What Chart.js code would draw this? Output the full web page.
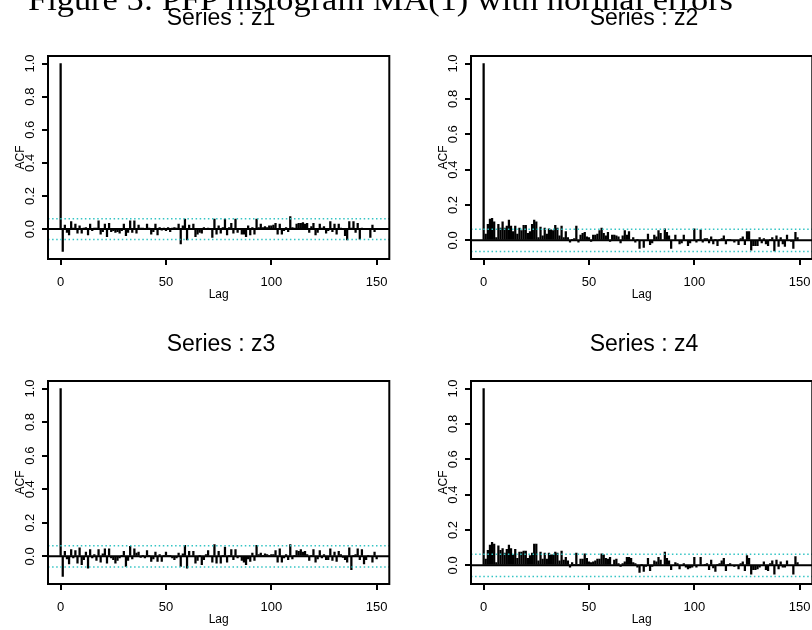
<!DOCTYPE html>
<html><head><meta charset="utf-8">
<script src="https://cdn.jsdelivr.net/npm/chart.js@4.4.0/dist/chart.umd.min.js"></script>
<style>
html,body{margin:0;padding:0;background:#fff;width:812px;height:630px;overflow:hidden;position:relative;}
canvas{position:absolute;}
svg{position:absolute;left:0;top:0;pointer-events:none;}
</style></head><body>
<canvas id="c1" width="420" height="320" style="left:0px;top:0px"></canvas>
<canvas id="c2" width="420" height="320" style="left:423px;top:0px"></canvas>
<canvas id="c3" width="420" height="320" style="left:0px;top:325px"></canvas>
<canvas id="c4" width="420" height="320" style="left:423px;top:325px"></canvas>
<svg width="812" height="630">
<text x="28" y="9.5" font-family="Liberation Serif, Times New Roman, serif" font-size="32" textLength="705" lengthAdjust="spacingAndGlyphs" fill="#000">Figure 5: PFP histogram MA(1) with normal errors</text>
<text x="221" y="25" text-anchor="middle" font-family="Liberation Sans, Arial, sans-serif" font-size="23" fill="#000">Series : z1</text>
<text x="644" y="25" text-anchor="middle" font-family="Liberation Sans, Arial, sans-serif" font-size="23" fill="#000">Series : z2</text>
<text x="221" y="350.5" text-anchor="middle" font-family="Liberation Sans, Arial, sans-serif" font-size="23" fill="#000">Series : z3</text>
<text x="644" y="350.5" text-anchor="middle" font-family="Liberation Sans, Arial, sans-serif" font-size="23" fill="#000">Series : z4</text>
</svg>
<script>
const lags = [0,1,2,3,4,5,6,7,8,9,10,11,12,13,14,15,16,17,18,19,20,21,22,23,24,25,26,27,28,29,30,31,32,33,34,35,36,37,38,39,40,41,42,43,44,45,46,47,48,49,50,51,52,53,54,55,56,57,58,59,60,61,62,63,64,65,66,67,68,69,70,71,72,73,74,75,76,77,78,79,80,81,82,83,84,85,86,87,88,89,90,91,92,93,94,95,96,97,98,99,100,101,102,103,104,105,106,107,108,109,110,111,112,113,114,115,116,117,118,119,120,121,122,123,124,125,126,127,128,129,130,131,132,133,134,135,136,137,138,139,140,141,142,143,144,145,146,147,148,149,150];
const xTicks = [0,50,100,150];
const yTicks = [0,0.2,0.4,0.6,0.8,1.0];
const clim = 0.063;

const acfZ1 = [1.0,-0.135,0.024,-0.02,-0.035,0.045,0.005,0.03,-0.025,0.02,
-0.025,0.005,0.01,-0.035,0.03,-0.01,0.005,0.005,0.05,-0.03,
-0.015,0.03,-0.045,0.035,-0.015,-0.01,-0.02,-0.015,-0.025,-0.01,
0.03,-0.04,-0.02,0.05,-0.02,0.05,-0.025,0.025,0.005,0.005,
0.0,0.03,0.005,-0.03,-0.015,0.03,-0.035,0.01,-0.005,0.005,
-0.01,0.01,-0.015,0.005,0.01,0.005,0.03,-0.09,0.02,0.06,
-0.065,0.025,0.0,0.03,-0.045,-0.03,-0.02,-0.025,0.01,0.0,
0.005,0.0,-0.05,0.06,-0.03,0.02,-0.025,0.01,0.06,-0.035,
0.01,0.035,-0.025,0.06,-0.02,0.0,-0.03,-0.03,-0.045,0.02,
-0.035,0.01,-0.03,0.06,0.01,0.03,0.01,0.015,0.01,0.02,
0.02,0.025,0.035,-0.03,0.03,-0.03,-0.01,0.01,-0.015,0.075,
0.01,0.005,0.03,0.035,0.035,0.04,0.03,0.035,-0.02,0.015,
0.035,-0.035,-0.02,0.03,0.005,0.015,-0.025,-0.01,0.045,-0.015,
0.03,-0.03,0.03,0.005,0.0,-0.04,-0.065,0.045,0.005,0.045,
-0.02,0.035,-0.06,0.005,0.0,0.0,0.0,-0.05,0.025,-0.015,0.0];

const acfZ2 = [1.0,0.035,0.09,0.12,0.125,0.105,0.015,0.09,0.07,0.105,
0.07,0.08,0.115,0.08,0.05,0.08,0.035,0.07,0.055,0.085,
0.085,0.04,0.05,0.09,0.115,0.105,0.015,0.075,0.025,0.07,
0.035,0.065,0.06,0.055,0.085,0.07,0.025,0.08,0.015,0.05,
0.015,-0.01,0.005,0.01,0.08,-0.01,0.03,0.04,0.045,0.02,
0.015,-0.005,0.03,0.03,0.035,0.055,0.07,0.04,0.025,0.045,
-0.005,0.03,0.03,0.025,0.02,-0.015,0.025,0.055,0.03,0.05,
0.0,0.015,-0.01,0.005,-0.045,0.0,-0.04,0.0,0.035,-0.025,
-0.015,0.03,0.02,0.055,0.04,0.0,0.065,0.045,0.025,-0.045,
0.0,0.03,0.0,-0.02,-0.015,0.03,0.0,-0.03,-0.015,0.0,
0.065,-0.01,0.005,0.06,-0.01,0.01,0.01,-0.015,0.02,-0.02,
0.005,-0.03,0.005,0.01,0.025,-0.02,0.005,0.005,0.0,-0.01,
0.0,-0.025,0.01,0.02,-0.025,0.05,0.05,-0.055,-0.03,-0.03,
-0.03,0.015,-0.015,0.01,-0.02,-0.03,0.005,0.015,-0.06,0.025,
-0.035,0.015,-0.02,-0.035,0.03,0.0,-0.005,-0.045,0.045,0.015,0.0];

const acfZ3 = [1.0,-0.12,0.03,-0.015,-0.045,0.04,-0.01,0.035,-0.04,0.05,
-0.05,-0.02,0.025,-0.07,0.04,-0.01,0.01,-0.025,0.04,-0.035,
0.015,0.045,-0.04,0.045,-0.01,-0.02,-0.04,-0.025,-0.01,0.005,
0.03,-0.06,-0.025,0.06,-0.015,0.045,0.02,0.025,-0.005,0.005,
-0.01,0.035,0.005,-0.03,-0.015,0.025,-0.03,0.01,-0.03,0.005,
0.025,0.005,0.005,-0.01,-0.02,-0.01,0.02,-0.06,0.015,0.065,
-0.07,0.03,0.0,0.03,-0.04,-0.025,0.005,-0.05,-0.02,0.01,
0.035,0.0,-0.035,0.07,-0.04,0.03,-0.04,0.005,0.055,-0.035,
0.005,0.04,-0.02,0.04,-0.01,0.0,-0.025,-0.035,-0.05,-0.015,
-0.03,0.02,-0.025,0.065,0.01,0.02,0.005,0.015,0.01,0.005,
0.01,0.01,0.035,-0.035,0.045,-0.035,-0.01,0.01,-0.02,0.07,
-0.015,0.005,0.035,0.03,0.04,0.025,0.03,0.01,-0.025,0.005,
0.04,-0.035,-0.015,0.035,-0.01,0.01,-0.02,-0.02,0.045,-0.025,
0.025,-0.03,0.03,0.01,-0.005,-0.02,-0.035,0.05,-0.08,0.005,
0.01,0.045,-0.02,0.04,-0.045,-0.02,0.005,0.0,-0.035,0.025,-0.015];

const acfZ4 = [1.0,0.035,0.085,0.115,0.13,0.12,0.015,0.11,0.085,0.095,
0.07,0.09,0.115,0.095,0.06,0.09,0.04,0.075,0.075,0.08,
0.08,0.04,0.055,0.07,0.12,0.12,0.025,0.075,0.035,0.07,
0.035,0.07,0.06,0.06,0.075,0.07,0.025,0.08,0.03,0.045,
0.025,-0.01,0.015,0.005,0.07,0.005,0.035,0.035,0.065,0.04,
0.02,0.015,0.02,0.025,0.035,0.035,0.065,0.06,0.04,0.035,
0.045,0.0,0.03,0.035,0.01,-0.005,0.01,0.02,0.045,0.045,
0.04,0.015,0.01,-0.01,-0.04,0.005,-0.035,-0.005,0.04,-0.03,
-0.005,0.025,0.02,0.045,0.03,0.0,0.075,0.04,0.025,-0.025,
0.0,0.015,0.01,-0.02,0.0,0.01,-0.01,-0.02,-0.015,-0.01,
0.045,-0.01,0.0,0.045,0.0,0.005,0.01,-0.025,0.03,-0.015,
-0.035,0.005,0.01,0.025,0.04,-0.03,0.005,0.01,0.0,-0.005,
0.0,-0.02,0.01,0.02,-0.03,0.055,0.04,-0.05,-0.025,-0.025,
-0.02,-0.01,0.0,0.02,-0.025,-0.03,0.01,0.025,-0.05,0.03,
-0.02,0.02,-0.01,-0.01,0.025,0.0,0.0,-0.05,0.05,0.015,0.0];

const FONT = 'Liberation Sans, Arial, sans-serif';
const X_MIN = -6, X_MAX = 156;

const framePlugin = {
  id: 'frame',
  afterDatasetsDraw(chart) {
    const {ctx, chartArea: a} = chart;
    ctx.save();
    ctx.strokeStyle = '#000';
    ctx.lineWidth = 2;
    ctx.strokeRect(a.left, a.top, a.right - a.left, a.bottom - a.top);
    ctx.restore();
  }
};

function makeChart(id, values) {
  const lo0 = Math.min(...values, -clim), hi0 = Math.max(...values, clim);
  const pad = (hi0 - lo0) * 0.04;
  const hLine = (y, color, width, dash, order) => ({
    type: 'line', data: [{x: X_MIN, y: y}, {x: X_MAX, y: y}],
    borderColor: color, borderWidth: width, borderDash: dash,
    pointRadius: 0, fill: false, order: order
  });
  return new Chart(document.getElementById(id), {
    type: 'bar',
    data: {
      datasets: [
        hLine(0, '#000', 2, [], 0),
        hLine(clim, '#33c4c4', 1.5, [1.5, 2.6], 1),
        hLine(-clim, '#33c4c4', 1.5, [1.5, 2.6], 1),
        {
          type: 'bar',
          data: lags.map((l, i) => ({x: l, y: values[i]})),
          backgroundColor: '#000', borderWidth: 0,
          barThickness: 1.6, order: 3
        }
      ]
    },
    options: {
      responsive: false, animation: false, devicePixelRatio: 1,
      layout: {padding: {left: 0, top: 56, right: 30.7, bottom: 0}},
      plugins: {legend: {display: false}, tooltip: {enabled: false}},
      events: [],
      scales: {
        x: {
          type: 'linear', min: X_MIN, max: X_MAX, offset: false,
          afterBuildTicks: s => { s.ticks = xTicks.map(v => ({value: v})); },
          afterFit: s => { s.height = 61; },
          grid: {display: true, drawOnChartArea: false, drawTicks: true, tickLength: 6,
                 color: '#000', lineWidth: 2, offset: false},
          border: {display: false},
          ticks: {font: {family: FONT, size: 13}, color: '#000', padding: 10,
                  autoSkip: false, maxRotation: 0, minRotation: 0,
                  callback: v => String(v)},
          title: {display: true, text: 'Lag', color: '#000',
                  font: {family: FONT, size: 12}, padding: {top: 0, bottom: 17.8}}
        },
        y: {
          type: 'linear', min: lo0 - pad, max: hi0 + pad,
          afterBuildTicks: s => { s.ticks = yTicks.map(v => ({value: v})); },
          afterFit: s => { s.width = 48; },
          grid: {display: true, drawOnChartArea: false, drawTicks: true, tickLength: 6,
                 color: '#000', lineWidth: 2},
          border: {display: false},
          ticks: {font: {family: FONT, size: 13}, color: '#000', padding: 3,
                  autoSkip: false, minRotation: 90, maxRotation: 90, crossAlign: 'center',
                  callback: v => v.toFixed(1)},
          title: {display: true, text: 'ACF', color: '#000',
                  font: {family: FONT, size: 12}, padding: {top: 13.8, bottom: 0}}
        }
      }
    },
    plugins: [framePlugin]
  });
}

makeChart('c1', acfZ1);
makeChart('c2', acfZ2);
makeChart('c3', acfZ3);
makeChart('c4', acfZ4);
</script>
</body></html>
